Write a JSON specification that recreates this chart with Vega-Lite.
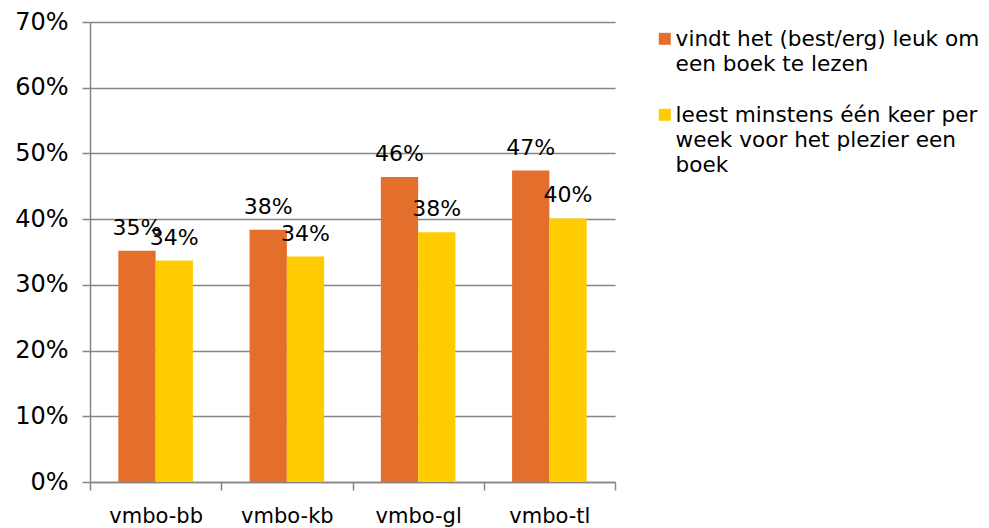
{
  "$schema": "https://vega.github.io/schema/vega-lite/v6.json",
  "autosize": "none",
  "width": 525,
  "height": 460,
  "padding": {"left": 90, "top": 22, "right": 374, "bottom": 46},
  "background": "white",
  "config": {
    "font": "DejaVu Sans",
    "view": {"stroke": null},
    "style": {"guide-label": {"lineHeight": 25}}
  },
  "data": {
    "values": [
      {"niveau": "vmbo-bb", "reeks": "vindt", "waarde": 35.2, "label": "35%"},
      {"niveau": "vmbo-bb", "reeks": "leest", "waarde": 33.7, "label": "34%"},
      {"niveau": "vmbo-kb", "reeks": "vindt", "waarde": 38.4, "label": "38%"},
      {"niveau": "vmbo-kb", "reeks": "leest", "waarde": 34.3, "label": "34%"},
      {"niveau": "vmbo-gl", "reeks": "vindt", "waarde": 46.4, "label": "46%"},
      {"niveau": "vmbo-gl", "reeks": "leest", "waarde": 38.0, "label": "38%"},
      {"niveau": "vmbo-tl", "reeks": "vindt", "waarde": 47.4, "label": "47%"},
      {"niveau": "vmbo-tl", "reeks": "leest", "waarde": 40.1, "label": "40%"}
    ]
  },
  "encoding": {
    "x": {
      "field": "niveau",
      "type": "nominal",
      "sort": null,
      "scale": {"paddingInner": 0, "paddingOuter": 0},
      "axis": {
        "title": null,
        "labelAngle": 0,
        "labelFontSize": 21,
        "labelColor": "#000000",
        "labelPadding": 15,
        "tickBand": "extent",
        "tickSize": 8,
        "tickColor": "#868686",
        "tickWidth": 1.5,
        "domainColor": "#868686",
        "domainWidth": 1.5,
        "grid": false
      }
    },
    "xOffset": {
      "field": "reeks",
      "type": "nominal",
      "sort": ["vindt", "leest"],
      "scale": {"paddingInner": 0, "paddingOuter": 0.76}
    },
    "y": {
      "field": "waarde",
      "type": "quantitative",
      "scale": {"domain": [0, 70], "nice": false, "zero": true},
      "axis": {
        "title": null,
        "values": [0, 10, 20, 30, 40, 50, 60, 70],
        "labelExpr": "datum.value + '%'",
        "labelFontSize": 24,
        "labelColor": "#000000",
        "labelPadding": 14,
        "tickSize": 8,
        "tickColor": "#868686",
        "tickWidth": 1.5,
        "domainColor": "#868686",
        "domainWidth": 1.5,
        "grid": true,
        "gridColor": "#868686",
        "gridWidth": 1.5
      }
    }
  },
  "layer": [
    {
      "mark": {"type": "bar"},
      "encoding": {
        "color": {
          "field": "reeks",
          "type": "nominal",
          "scale": {"domain": ["vindt", "leest"], "range": ["#E46F2C", "#FFCC00"]},
          "legend": {
            "title": null,
            "orient": "none",
            "legendX": 564,
            "legendY": 6,
            "padding": 0,
            "symbolType": "square",
            "symbolSize": 144,
            "symbolStrokeWidth": 0,
            "symbolOpacity": 1,
            "labelFontSize": 21.6,
            "labelColor": "#000000",
            "labelOffset": 0,
            "labelLimit": 400,
            "labelBaseline": "top",
            "labelExpr": "datum.value == 'vindt' ? ['vindt het (best/erg) leuk om', 'een boek te lezen'] : ['leest minstens één keer per', 'week voor het plezier een', 'boek']",
            "rowPadding": 28,
            "encode": {"labels": {"update": {"dy": {"value": -10}}}}
          }
        }
      }
    },
    {
      "mark": {"type": "text", "fontSize": 22, "dy": -16, "baseline": "alphabetic", "color": "#000000"},
      "encoding": {
        "text": {"field": "label"}
      }
    }
  ]
}
